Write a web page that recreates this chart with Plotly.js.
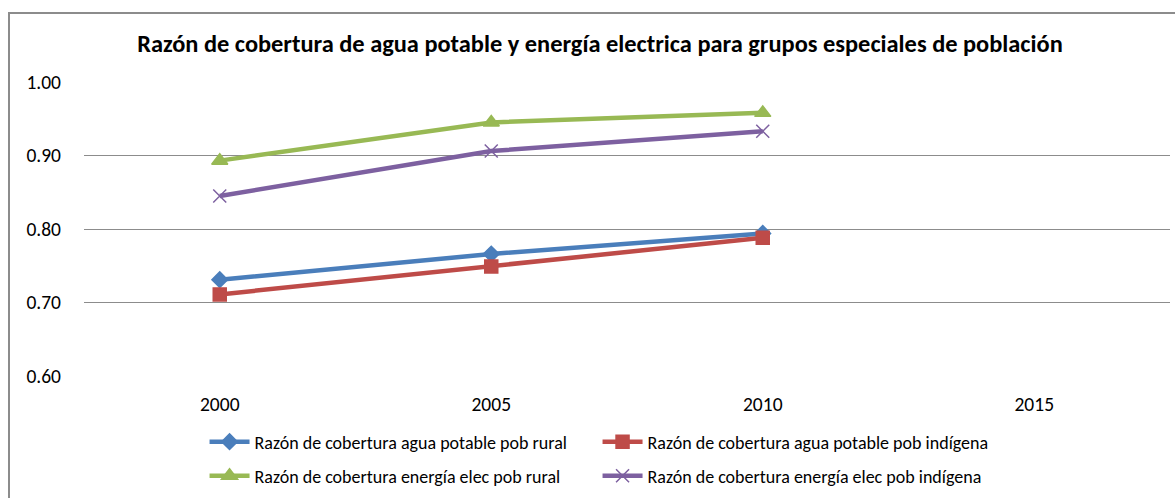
<!DOCTYPE html>
<html><head><meta charset="utf-8">
<script src="https://cdn.plot.ly/plotly-3.0.1.min.js"></script>
<style>
html,body{margin:0;padding:0;background:#fff;}
#frame{position:absolute;left:8px;top:12px;width:1170px;height:500px;border:2px solid #8c8c8c;box-sizing:border-box;}
#chart{position:absolute;left:0;top:0;width:1175px;height:498px;}
</style></head>
<body>
<div id="chart"></div>
<div id="frame"></div>
<script>
const years = ['2000','2005','2010','2015'];
const aguaRural = [0.731, 0.766, 0.794, null];
const aguaIndigena = [0.711, 0.749, 0.788, null];
const energiaRural = [0.893, 0.945, 0.958, null];
const energiaIndigena = [0.845, 0.906, 0.933, null];
const names = [
  'Razón de cobertura agua potable pob rural',
  'Razón de cobertura agua potable pob indígena',
  'Razón de cobertura energía elec pob rural',
  'Razón de cobertura energía elec pob indígena'
];
const colors = ['#4a7ebb','#be4b48','#98b954','#7d60a0'];
const symbols = ['diamond','square','triangle-up','x-thin-open'];
const sizes = [12,13,14,13];
const legendIds = ['legend','legend','legend2','legend2'];
const series = [aguaRural, aguaIndigena, energiaRural, energiaIndigena];
const traces = series.map((s,i)=>({
  type:'scatter', mode:'lines+markers', x:years, y:s, name:names[i],
  legend:legendIds[i],
  line:{color:colors[i], width:4.5},
  marker:{symbol:symbols[i], size:sizes[i], color:colors[i], line:{color:colors[i], width:1.5}},
  connectgaps:false
}));
const font = 'Carlito, Calibri, "Liberation Sans", Arial, sans-serif';
const legBase = {orientation:'h', xanchor:'left', yanchor:'middle',
  entrywidth:338, entrywidthmode:'pixels', itemwidth:40,
  font:{family:font, size:18, color:'#000'}, bgcolor:'rgba(0,0,0,0)'};
const layout = {
  width:1175, height:498,
  margin:{l:84, r:5, t:82, b:121},
  paper_bgcolor:'#fff', plot_bgcolor:'#fff',
  title:{text:'<b>Razón de cobertura de agua potable y energía electrica para grupos especiales de población</b>',
    font:{family:font, size:24.4, color:'#000'}, x:0.5106, xanchor:'center', y:0.912, yanchor:'middle'},
  xaxis:{type:'category', categoryorder:'array', categoryarray:years, range:[-0.5,3.5],
    showgrid:false, showline:false, zeroline:false, ticks:'',
    tickfont:{family:font, size:19.5, color:'#000'}, ticklabelstandoff:14},
  yaxis:{range:[0.6,1.0], tickvals:[0.6,0.7,0.8,0.9,1.0], tickformat:'.2f',
    showgrid:true, gridcolor:'#8c8c8c', gridwidth:1, zeroline:false, showline:false, ticks:'',
    tickfont:{family:font, size:19.5, color:'#000'}, ticklabelstandoff:22},
  showlegend:true,
  legend:Object.assign({}, legBase, {x:0.111, y:-0.2203}),
  legend2:Object.assign({}, legBase, {x:0.111, y:-0.3356})
};
Plotly.newPlot('chart', traces, layout, {displayModeBar:false, staticPlot:true});
</script>
</body></html>
